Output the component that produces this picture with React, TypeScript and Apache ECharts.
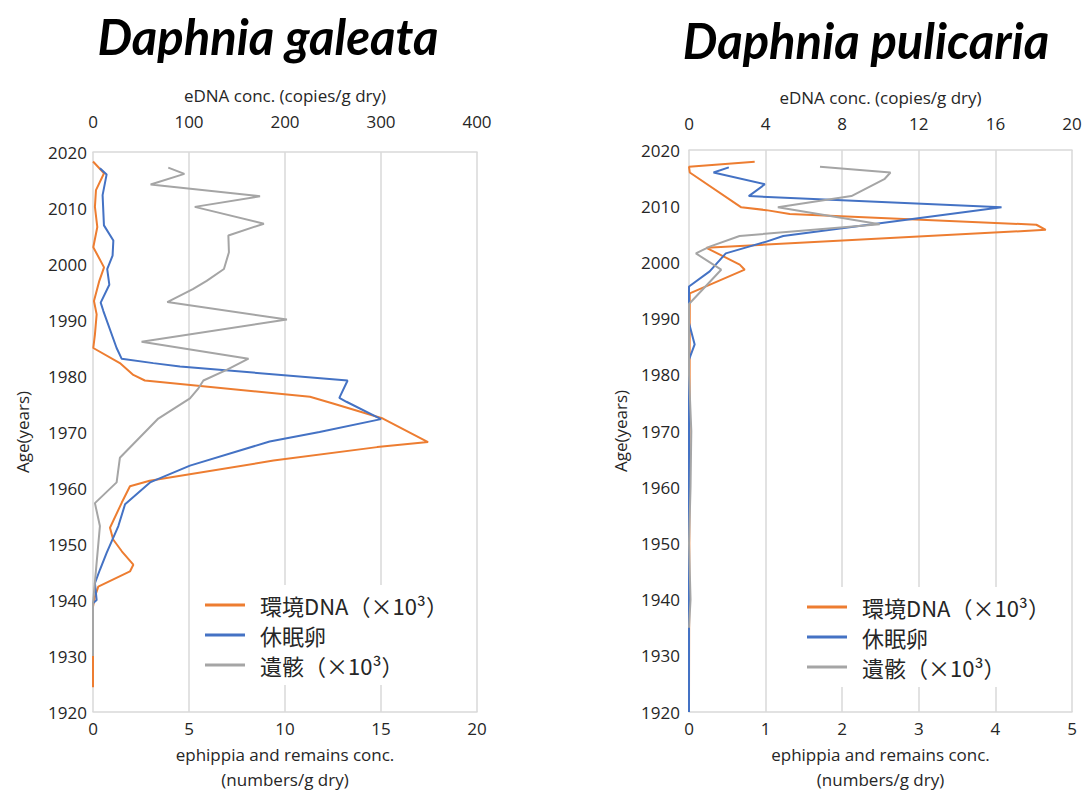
import React, { useEffect, useRef } from 'react';
import * as echarts from 'echarts';

// ---- Daphnia galeata (left panel) ----
const galeataEdnaYears = [2018.3, 2016.2, 2013.2, 2010.2, 2006.6, 2003, 1999.4, 1997, 1993.4, 1991, 1987.4, 1985, 1982.3, 1980.2, 1979.2, 1976.3, 1975.1, 1972.4, 1968.2, 1967.3, 1964.9, 1961.3, 1960.3, 1957.4, 1952.9, 1950.8, 1948.7, 1946.3, 1945.1, 1942.4, 1940.6, 1938.8, 1924.4];
const galeataEdnaValues = [0, 11.5, 3.1, 2, 4.5, 0.3, 11.5, 6.6, 1, 3.8, 2, 0.3, 28, 42, 54, 226, 250, 302, 349, 296, 188, 59, 38.5, 30, 17.7, 21, 30, 42, 38.5, 5.5, 2, 0, 0];

const galeataEggYears = [2017.1, 2016, 2012.3, 2006.9, 2004.2, 2001.5, 1999.1, 1996.3, 1993.1, 1991.6, 1985, 1983.1, 1982.3, 1981.7, 1979.2, 1976.1, 1975.4, 1972.3, 1970, 1968.3, 1964, 1961, 1957.1, 1953.2, 1948.4, 1945.4, 1943, 1940, 1939.4];
const galeataEggValues = [0.36, 0.71, 0.5, 0.57, 1.06, 1.02, 0.74, 0.85, 0.4, 0.54, 1.23, 1.49, 3.14, 4.53, 13.26, 12.83, 13.2, 15.0, 11.8, 9.2, 5.05, 2.97, 1.67, 1.32, 0.71, 0.36, 0.1, 0.19, 0];

const galeataRemainsYears = [2017.2, 2016.1, 2014.2, 2012.1, 2010.2, 2007.2, 2005.1, 2002.1, 1999.1, 1997, 1995.5, 1993.2, 1990.1, 1986.1, 1983.1, 1981.1, 1979.2, 1977.8, 1976, 1972.4, 1965.4, 1961, 1957.3, 1953.2, 1939.4, 1930];
const galeataRemainsValues = [3.92, 4.76, 3.0, 8.7, 5.3, 8.9, 7.05, 7.08, 6.82, 5.92, 5.2, 3.87, 10.1, 2.53, 8.1, 6.96, 5.75, 5.49, 5.05, 3.4, 1.4, 1.23, 0.1, 0.36, 0, 0];

// ---- Daphnia pulicaria (right panel) ----
const pulicariaEdnaYears = [2017.9, 2017, 2016, 2009.8, 2009.3, 2008.6, 2006.7, 2005.8, 2002.6, 1999.6, 1998.7, 1994.5, 1922];
const pulicariaEdnaValues = [3.43, 0, 0.04, 2.73, 4.04, 5.26, 18.14, 18.63, 0.91, 2.65, 2.91, 0.04, 0];

const pulicariaEggYears = [2016.9, 2016, 2013.9, 2011.8, 2009.8, 2004.7, 2003.7, 2001.6, 1998.4, 1995.7, 1989.2, 1985.4, 1982.7, 1920];
const pulicariaEggValues = [0.52, 0.32, 0.99, 0.78, 4.08, 1.23, 1.01, 0.48, 0.27, 0, 0, 0.074, 0, 0];

const pulicariaRemainsYears = [2017, 2016, 2014.8, 2011.8, 2009.8, 2006.8, 2004.7, 2002.8, 2001.6, 1998.7, 1992.6, 1980, 1970, 1960, 1950, 1940, 1935];
const pulicariaRemainsValues = [1.71, 2.63, 2.55, 2.12, 1.16, 2.49, 0.66, 0.27, 0.09, 0.42, 0, 0, 0.03, 0.02, 0, 0.02, 0];

const seriesNames = ['環境DNA（×10³）', '休眠卵', '遺骸（×10³）'];
const seriesColors = ['#ED7D31', '#4472C4', '#A5A5A5'];
const titles = ['Daphnia galeata', 'Daphnia pulicaria'];
const topAxisName = 'eDNA conc. (copies/g dry)';
const bottomAxisName = 'ephippia and remains conc.\n(numbers/g dry)';
const yAxisName = 'Age(years)';

const pairs = (xs: number[], ys: number[]) => xs.map((x, i) => [x, ys[i]]);

const TXT = '#262626';
const GRID_C = '#d9d9d9';
const FONT = 'Open Sans';

export default function App() {
  const ref = useRef<HTMLDivElement>(null);
  useEffect(() => {
    if (!ref.current) return;
    const chart = echarts.init(ref.current, undefined, { renderer: 'svg' });

    const xBottom = (grid: number, max: number, interval: number) => ({
      type: 'value', gridIndex: grid, position: 'bottom', min: 0, max, interval,
      axisLine: { show: true, lineStyle: { color: GRID_C, width: 1.5 } },
      axisTick: { show: false },
      splitLine: { show: true, lineStyle: { color: GRID_C, width: 1.5 } },
      axisLabel: { fontSize: 17, color: TXT, fontFamily: FONT, margin: 8 },
      name: bottomAxisName, nameLocation: 'middle', nameGap: 30,
      nameTextStyle: { fontSize: 17, color: TXT, fontFamily: FONT, lineHeight: 25 },
    });
    const xTop = (grid: number, max: number, interval: number, margin: number, gap: number) => ({
      type: 'value', gridIndex: grid, position: 'top', min: 0, max, interval,
      axisLine: { show: true, lineStyle: { color: GRID_C, width: 1.5 } },
      axisTick: { show: false },
      splitLine: { show: false },
      axisLabel: { fontSize: 17, color: TXT, fontFamily: FONT, margin },
      name: topAxisName, nameLocation: 'middle', nameGap: gap,
      nameTextStyle: { fontSize: 17, color: TXT, fontFamily: FONT },
    });
    const yAx = (grid: number, margin: number, gap: number) => ({
      type: 'value', gridIndex: grid, min: 1920, max: 2020, interval: 10,
      axisLine: { show: false }, axisTick: { show: false }, splitLine: { show: false },
      axisLabel: { fontSize: 17, color: TXT, fontFamily: FONT, margin, formatter: (v: number) => String(v) },
      name: yAxisName, nameLocation: 'middle', nameGap: gap, nameRotate: 90,
      nameTextStyle: { fontSize: 17, color: TXT, fontFamily: FONT },
    });

    const line = (name: number, data: number[][], xi: number, yi: number) => ({
      type: 'line', name: seriesNames[name], data, xAxisIndex: xi, yAxisIndex: yi,
      symbol: 'none', color: seriesColors[name], lineStyle: { width: 2, color: seriesColors[name] },
    });

    const legend = (left: number, top: number) => ({
      left, top, orient: 'vertical', icon: 'rect', itemWidth: 40, itemHeight: 3, itemGap: 6,
      backgroundColor: '#fff', padding: [8, 10, 8, 10],
      data: seriesNames,
      textStyle: { fontSize: 22, lineHeight: 24, color: TXT, fontFamily: 'Noto Sans CJK JP', padding: [0, 0, 0, 10] },
    });

    chart.setOption({
      animation: false,
      backgroundColor: '#fff',
      grid: [
        { left: 93, top: 152, width: 384, height: 560 },
        { left: 689, top: 150, width: 383, height: 563 },
      ],
      xAxis: [
        xBottom(0, 20, 5),
        xTop(0, 400, 100, 22, 48),
        xBottom(1, 5, 1),
        xTop(1, 20, 4, 18, 44),
      ],
      yAxis: [yAx(0, 6, 62), yAx(1, 9, 60)],
      legend: [legend(195, 585), legend(797, 587)],
      graphic: [
        { type: 'text', x: 268, y: 36, style: { text: titles[0], font: 'italic bold 49px Lato', fill: '#000', textAlign: 'center', textVerticalAlign: 'middle' } },
        { type: 'text', x: 866, y: 40, style: { text: titles[1], font: 'italic bold 49px Lato', fill: '#000', textAlign: 'center', textVerticalAlign: 'middle' } },
      ],
      series: [
        line(0, pairs(galeataEdnaValues, galeataEdnaYears), 1, 0),
        line(1, pairs(galeataEggValues, galeataEggYears), 0, 0),
        line(2, pairs(galeataRemainsValues, galeataRemainsYears), 0, 0),
        line(0, pairs(pulicariaEdnaValues, pulicariaEdnaYears), 3, 1),
        line(1, pairs(pulicariaEggValues, pulicariaEggYears), 2, 1),
        line(2, pairs(pulicariaRemainsValues, pulicariaRemainsYears), 2, 1),
      ],
    });
    return () => chart.dispose();
  }, []);
  return <div ref={ref} style={{ position: 'fixed', left: 0, top: 0, width: 1086, height: 797, background: '#fff' }} />;
}
